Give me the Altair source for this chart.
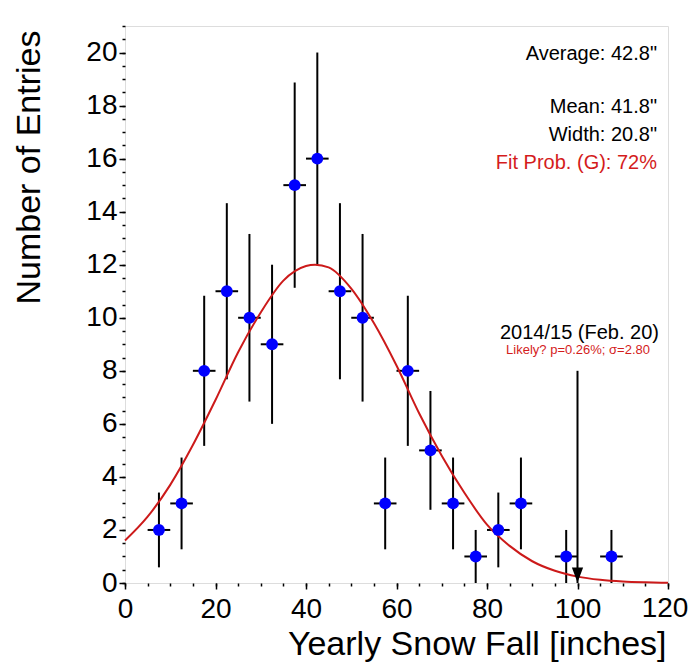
import altair as alt
import pandas as pd

# ---- data ----
bin_centers = [7.5, 12.5, 17.5, 22.5, 27.5, 32.5, 37.5, 42.5, 47.5, 52.5, 57.5,
               62.5, 67.5, 72.5, 77.5, 82.5, 87.5, 92.5, 97.5, 102.5, 107.5]
counts = [2, 3, 8, 11, 10, 9, 15, 16, 11, 10, 3, 8, 5, 3, 1, 2, 3, 0, 1, 0, 1]
errors = [1.41, 1.73, 2.83, 3.32, 3.16, 3.0, 3.87, 4.0, 3.32, 3.16, 1.73,
          2.83, 2.24, 1.73, 1.0, 1.41, 1.73, 0.0, 1.0, 0.0, 1.0]
bin_half_width = 2.5

fit_x = [0, 5, 10, 15, 20, 25, 30, 35, 40, 42, 45, 50, 55, 60, 65, 70, 75, 80,
         85, 90, 95, 100, 105, 110, 115, 120]
fit_y = [1.6, 2.5, 3.7, 5.2, 6.9, 8.7, 10.2, 11.4, 11.95, 12.0, 11.9, 11.1, 9.8,
         8.2, 6.4, 4.8, 3.4, 2.2, 1.4, 0.82, 0.46, 0.24, 0.12, 0.055, 0.025, 0.01]

marker_x = [100]
marker_top = [8]

x_major = [0, 20, 40, 60, 80, 100, 120]
x_minor = list(range(0, 121, 5))
y_major = [0, 2, 4, 6, 8, 10, 12, 14, 16, 18, 20]
y_minor = [i * 0.5 for i in range(43)]
x_last_label = [120]

FONT = "Liberation Sans"
PLOT_H = 557

df = pd.DataFrame({"x": bin_centers, "n": counts, "err": errors})
df = df[df["n"] > 0].copy()
df["lo"] = df["n"] - df["err"]
df["hi"] = df["n"] + df["err"]
df["xlo"] = df["x"] - bin_half_width
df["xhi"] = df["x"] + bin_half_width

fit_df = pd.DataFrame({"x": fit_x, "y": fit_y})
mk_df = pd.DataFrame({"x": marker_x, "top": marker_top, "bottom": [0]})
last_df = pd.DataFrame({"v": x_last_label})

xs = alt.Scale(domain=[0, 120], nice=False, zero=False)
ys = alt.Scale(domain=[0, 21], nice=False, zero=False)

minor_x_axis = alt.Axis(orient="bottom", values=x_minor, labels=False, title=None,
                        domain=False, tickSize=3, tickWidth=1.5, tickColor="black",
                        grid=False)
minor_y_axis = alt.Axis(orient="left", values=y_minor, labels=False, title=None,
                        domain=False, tickSize=3, tickWidth=1.5, tickColor="black",
                        grid=False)
major_x_axis = alt.Axis(orient="bottom", values=x_major, format="d", domain=False,
                        tickSize=6, tickWidth=1.5, tickColor="black", grid=False,
                        labelFontSize=28, labelFont=FONT, labelColor="black",
                        labelPadding=6, labelFlush=False, labelOverlap=False,
                        labelExpr="datum.value == 120 ? '' : datum.label",
                        title="Yearly Snow Fall [inches]", titleFontSize=34,
                        titleFont=FONT, titleFontWeight="normal", titleColor="black",
                        titleX=541, titleY=71, titleAlign="right",
                        titleBaseline="alphabetic")
major_y_axis = alt.Axis(orient="left", values=y_major, format="d", domain=False,
                        tickSize=6, tickWidth=1.5, tickColor="black", grid=False,
                        labelFontSize=28, labelFont=FONT, labelColor="black",
                        labelPadding=2, labelFlush=False, labelOverlap=False,
                        title="Number of Entries", titleFontSize=34, titleFont=FONT,
                        titleFontWeight="normal", titleColor="black",
                        titleX=-86, titleY=141, titleAlign="center",
                        titleBaseline="alphabetic", titleAngle=270)

vbars = alt.Chart(df).mark_rule(color="black", strokeWidth=2).encode(
    x=alt.X("x:Q", scale=xs, axis=minor_x_axis),
    y=alt.Y("lo:Q", scale=ys, axis=minor_y_axis),
    y2="hi:Q",
)
hbars = alt.Chart(df).mark_rule(color="black", strokeWidth=2).encode(
    x=alt.X("xlo:Q", scale=xs, axis=None),
    x2="xhi:Q",
    y=alt.Y("n:Q", scale=ys, axis=None),
)
fit = alt.Chart(fit_df).mark_line(color="#cc1a1a", strokeWidth=2,
                                  interpolate="monotone").encode(
    x=alt.X("x:Q", scale=xs, axis=None),
    y=alt.Y("y:Q", scale=ys, axis=None),
)
points = alt.Chart(df).mark_circle(color="#0000ff", size=140, opacity=1).encode(
    x=alt.X("x:Q", scale=xs, axis=major_x_axis),
    y=alt.Y("n:Q", scale=ys, axis=major_y_axis),
)
mk_rule = alt.Chart(mk_df).mark_rule(color="black", strokeWidth=2).encode(
    x=alt.X("x:Q", scale=xs, axis=None),
    y=alt.Y("bottom:Q", scale=ys, axis=None),
    y2="top:Q",
)
mk_tri = alt.Chart(mk_df).mark_point(shape="M-0.75,-1L0.75,-1L0,1Z", filled=True,
                                     color="black", opacity=1, size=225,
                                     yOffset=-8).encode(
    x=alt.X("x:Q", scale=xs, axis=None),
    y=alt.Y("bottom:Q", scale=ys, axis=None),
)
# last x tick label, nudged slightly left so it stays inside the page
last_label = alt.Chart(last_df).mark_text(
    align="center", baseline="top", font=FONT, fontSize=28, color="black", dx=-3
).encode(
    x=alt.X("v:Q", scale=xs, axis=None),
    y=alt.value(PLOT_H + 12),
    text=alt.Text("v:Q", format="d"),
)


def label(text, x, y, size, color="black"):
    return alt.Chart(pd.DataFrame({"t": [text]})).mark_text(
        align="right", baseline="alphabetic", font=FONT, fontSize=size,
        color=color).encode(text="t:N", x=alt.value(x), y=alt.value(y))


texts = [
    label('Average: 42.8"', 532, 34, 20),
    label('Mean: 41.8"', 532, 87, 20),
    label('Width: 20.8"', 532, 115, 20),
    label("Fit Prob. (G): 72%", 532, 143, 20, "#d41c1c"),
    label("2014/15 (Feb. 20)", 534, 313, 20),
    label("Likely? p=0.26%; σ=2.80", 525, 328, 13, "#d41c1c"),
]

chart = alt.layer(vbars, hbars, fit, points, mk_rule, mk_tri, last_label,
                  *texts).resolve_axis(
    x="independent", y="independent"
).properties(
    width=543, height=PLOT_H,
    padding={"left": 117, "top": 18, "right": 20, "bottom": 81},
    autosize=alt.AutoSizeParams(type="none"),
).configure_view(stroke="black", strokeWidth=1.5).configure(background="white")

chart.save("out.html", embed_options={"renderer": "svg", "actions": False})
